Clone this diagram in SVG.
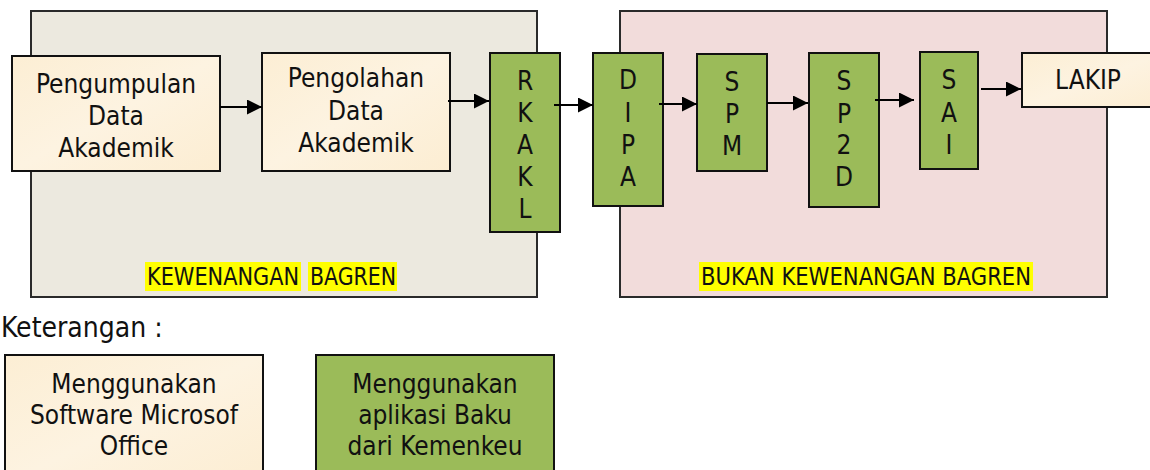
<svg xmlns="http://www.w3.org/2000/svg" width="1150" height="470" viewBox="0 0 1150 470">
  <defs>
    <linearGradient id="parchment" x1="0" y1="0" x2="1" y2="1">
      <stop offset="0" stop-color="#FCEED4"/>
      <stop offset="0.5" stop-color="#FDF3E1"/>
      <stop offset="1" stop-color="#FCEDD2"/>
    </linearGradient>
    <marker id="arrowhead" viewBox="0 0 10 10" refX="10" refY="5" markerWidth="7.5" markerHeight="7.5" orient="auto" markerUnits="strokeWidth">
      <path d="M0,0 L10,5 L0,10 Z" fill="#000"/>
    </marker>
  </defs>
  <style>
    text { font-family: "DejaVu Sans Condensed", "Liberation Sans", sans-serif; fill: #111; }
    .region { stroke: #2a2a2a; stroke-width: 2; }
    .own { fill: #ECE9DF; }
    .other { fill: #F2DCDB; }
    .cream { fill: url(#parchment); stroke: #111; stroke-width: 2; }
    .green { fill: #9BBB59; stroke: #111; stroke-width: 2; }
    .t { font-size: 26px; text-anchor: middle; }
    .lbl { font-size: 25px; }
    .hl { fill: #FFFF00; }
    .conn line { stroke: #000; stroke-width: 2; marker-end: url(#arrowhead); }
  </style>

  <!-- authority regions -->
  <g id="region-bagren">
    <rect class="region own" x="31" y="11" width="506" height="286"/>
    <rect class="hl" x="145" y="262" width="156" height="29"/>
    <rect class="hl" x="308" y="262" width="89" height="29"/>
    <text class="lbl" x="147" y="285" textLength="152" lengthAdjust="spacingAndGlyphs">KEWENANGAN</text>
    <text class="lbl" x="310" y="285" textLength="86" lengthAdjust="spacingAndGlyphs">BAGREN</text>
  </g>
  <g id="region-non-bagren">
    <rect class="region other" x="620" y="11" width="487" height="286"/>
    <rect class="hl" x="699" y="262" width="334" height="29"/>
    <text class="lbl" x="701" y="285" textLength="330" lengthAdjust="spacingAndGlyphs">BUKAN KEWENANGAN BAGREN</text>
  </g>

  <!-- process nodes -->
  <g id="node-pengumpulan">
    <rect class="cream" x="12" y="56" width="208" height="115"/>
    <text class="t" x="116" y="93">Pengumpulan</text>
    <text class="t" x="116" y="125">Data</text>
    <text class="t" x="116" y="157">Akademik</text>
  </g>
  <g id="node-pengolahan">
    <rect class="cream" x="262" y="53" width="188" height="118"/>
    <text class="t" x="356" y="87">Pengolahan</text>
    <text class="t" x="356" y="120">Data</text>
    <text class="t" x="356" y="152">Akademik</text>
  </g>
  <g id="node-rkakl">
    <rect class="green" x="490" y="53" width="70" height="179"/>
    <text class="t" x="525" y="90">R</text>
    <text class="t" x="525" y="122">K</text>
    <text class="t" x="525" y="154">A</text>
    <text class="t" x="525" y="186">K</text>
    <text class="t" x="525" y="218">L</text>
  </g>
  <g id="node-dipa">
    <rect class="green" x="593" y="53" width="70" height="153"/>
    <text class="t" x="628" y="89">D</text>
    <text class="t" x="628" y="122">I</text>
    <text class="t" x="628" y="154">P</text>
    <text class="t" x="628" y="186">A</text>
  </g>
  <g id="node-spm">
    <rect class="green" x="697" y="54" width="70" height="117"/>
    <text class="t" x="732" y="91">S</text>
    <text class="t" x="732" y="123">P</text>
    <text class="t" x="732" y="155">M</text>
  </g>
  <g id="node-sp2d">
    <rect class="green" x="809" y="53" width="70" height="154"/>
    <text class="t" x="844" y="90">S</text>
    <text class="t" x="844" y="123">P</text>
    <text class="t" x="844" y="154">2</text>
    <text class="t" x="844" y="186">D</text>
  </g>
  <g id="node-sai">
    <rect class="green" x="920" y="52" width="58" height="117"/>
    <text class="t" x="949" y="89">S</text>
    <text class="t" x="949" y="122">A</text>
    <text class="t" x="949" y="154">I</text>
  </g>
  <g id="node-lakip">
    <rect class="cream" x="1022" y="53" width="140" height="54"/>
    <text class="t" x="1088" y="89">LAKIP</text>
  </g>

  <!-- flow arrows -->
  <g id="connectors" class="conn">
    <line x1="220" y1="107" x2="262" y2="107"/>
    <line x1="448" y1="101" x2="489" y2="101"/>
    <line x1="554" y1="105" x2="593" y2="105"/>
    <line x1="659" y1="104" x2="697" y2="104"/>
    <line x1="767" y1="103" x2="808" y2="103"/>
    <line x1="875" y1="100" x2="914" y2="100"/>
    <line x1="981" y1="89" x2="1021" y2="89"/>
  </g>

  <!-- legend -->
  <text id="legend-title" x="1" y="337" font-size="28">Keterangan :</text>
  <g id="legend-office">
    <rect class="cream" x="5" y="355" width="258" height="130"/>
    <text class="t" x="134" y="393">Menggunakan</text>
    <text class="t" x="134" y="424">Software Microsof</text>
    <text class="t" x="134" y="455">Office</text>
  </g>
  <g id="legend-kemenkeu">
    <rect class="green" x="316" y="355" width="238" height="130"/>
    <text class="t" x="435" y="393">Menggunakan</text>
    <text class="t" x="435" y="424">aplikasi Baku</text>
    <text class="t" x="435" y="455">dari Kemenkeu</text>
  </g>
</svg>
